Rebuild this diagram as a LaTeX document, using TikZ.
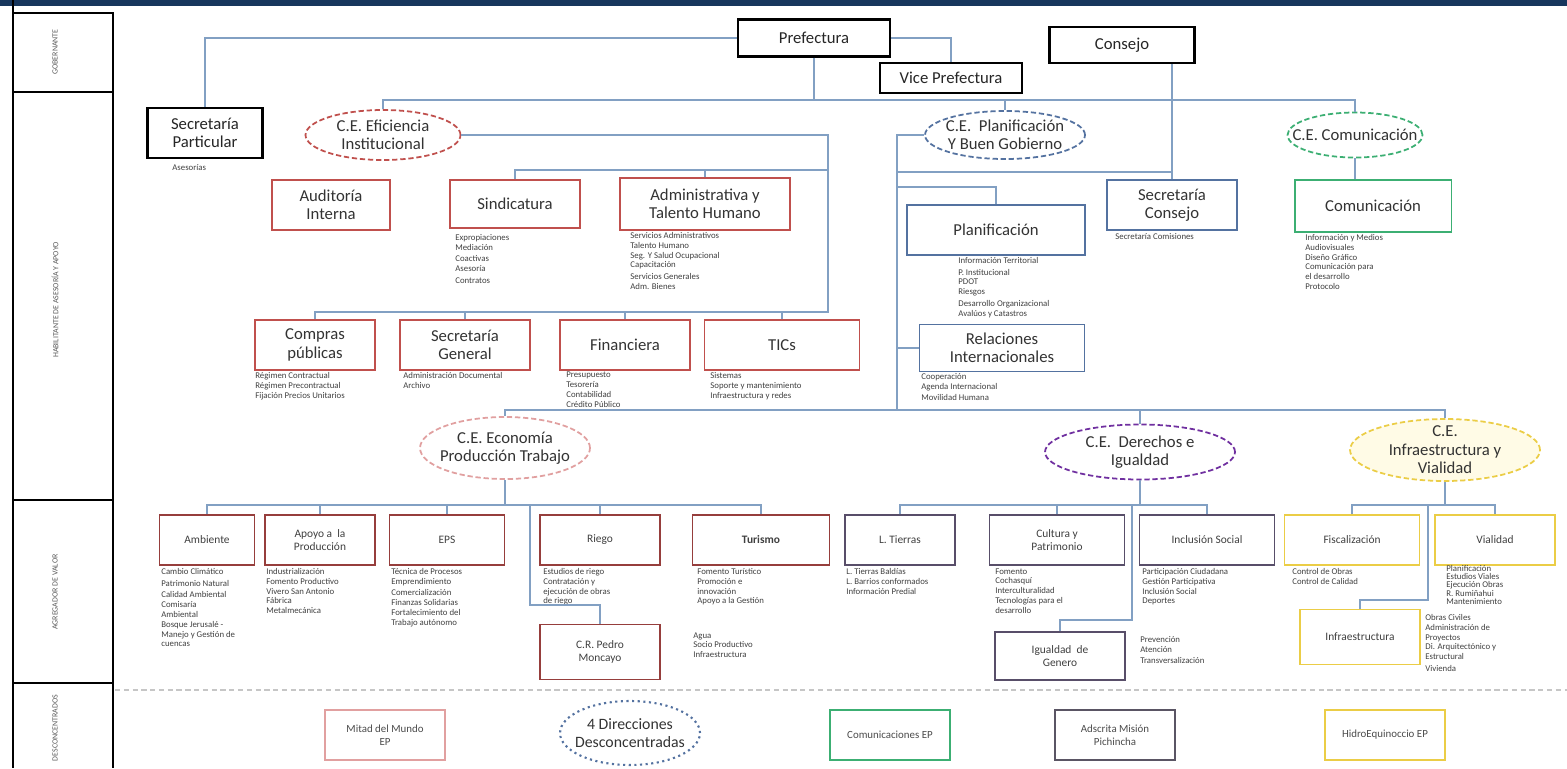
\documentclass[tikz,border=0pt]{standalone}
\usepackage{fontspec}
\setmainfont{Carlito}
\usetikzlibrary{shapes.geometric, positioning}
\definecolor{navy}{RGB}{23,54,93}
\definecolor{cred}{RGB}{192,80,77}
\definecolor{cdred}{RGB}{150,62,60}
\definecolor{cblue}{RGB}{84,114,160}
\definecolor{cgreen}{RGB}{60,175,115}
\definecolor{cpurp}{RGB}{112,48,160}
\definecolor{cpbox}{RGB}{88,78,105}
\definecolor{cyell}{RGB}{235,205,70}
\definecolor{cyfill}{RGB}{255,251,230}
\definecolor{cpink}{RGB}{225,160,160}
\definecolor{cline}{RGB}{130,160,195}
\definecolor{cgray}{RGB}{90,85,100}

\begin{document}
\begin{tikzpicture}[
	x=0.02cm, y=-0.02cm,
	font=\fontsize{9.5}{10.5}\selectfont,
	bigbox/.style={draw=black, line width=1.4pt, fill=white, align=center, inner sep=1pt, text=black!85},
	unit/.style={draw=#1, line width=1.1pt, fill=white, align=center, inner sep=1pt, text=black!80},
	subunit/.style={draw=#1, line width=1pt, fill=white, align=center, inner sep=1pt, font=\fontsize{6.5}{7.5}\selectfont, minimum height=1cm, text=black!75},
	ep/.style={draw=#1, line width=1.1pt, fill=white, align=center, inner sep=1pt, font=\fontsize{6.2}{7.5}\selectfont, minimum width=2.4cm, minimum height=1cm, text=black!70},
	ce/.style={ellipse, draw=#1, dash pattern=on 3pt off 1.6pt, line width=1pt, fill=white, align=center, inner xsep=-16pt, inner ysep=-6pt, text=black!80},
	items/.style={anchor=north west, align=left, inner sep=0pt, font=\fontsize{5}{5.6}\selectfont, text=black!75},
	link/.style={draw=cline, line width=0.7pt},
	strip/.style={rotate=90, font=\fontsize{4.5}{5}\selectfont, text=black!65}
	]
	
	\useasboundingbox (0,0) rectangle (1567,768);
	\fill[navy] (0,0) rectangle (1567,6);
	
	% left strip
	\draw[line width=1.6pt] (13,0) -- (13,768);
	\draw[line width=1.6pt] (13,13) -- (113,13) -- (113,768);
	\draw[line width=1.6pt] (13,92) -- (113,92);
	\draw[line width=1.6pt] (13,500) -- (113,500);
	\draw[line width=1.6pt] (13,683) -- (113,683);
	\node[strip] (gob) at (55,52) {GOBERNANTE};
	\node[strip] (hab) at (55,300) {HABILITANTE DE ASESORÍA Y APOYO};
	\node[strip] (agr) at (55,592) {AGREGADOR DE VALOR};
	\node[strip] (des) at (55,728) {DESCONCENTRADOS};
	
	\draw[gray!45, dash pattern=on 3pt off 2pt, line width=0.8pt] (115,690) -- (1567,690);
	
	% gobernante
	\node[bigbox, minimum width=3.04cm, minimum height=0.74cm] (pref) at (814,38) {Prefectura};
	\node[bigbox, minimum width=2.84cm, minimum height=0.6cm] (vice) at (951,78) {Vice Prefectura};
	\node[bigbox, minimum width=2.9cm, minimum height=0.72cm] (cons) at (1122,45) {Consejo};
	\node[bigbox, minimum width=2.3cm, minimum height=1cm] (secpart) at (205,133) {Secretaría\\Particular};
	\node[items] (secpartL) at (172,164) {Asesorías};
	
	% coordinaciones
	\node[ce=cred, minimum width=3.1cm, minimum height=1cm] (ceef) at (383,135) {C.E. Eficiencia\\Institucional};
	\node[ce=cblue, minimum width=3.2cm, minimum height=0.96cm] (cepl) at (1005,135) {C.E.~ Planificación\\Y Buen Gobierno};
	\node[ce=cgreen, minimum width=2.7cm, minimum height=0.9cm] (ceco) at (1355,135) {C.E. Comunicación};
	
	\node[unit=cred, minimum width=2.36cm, minimum height=1cm] (aud) at (331,205) {Auditoría\\Interna};
	\node[unit=cred, minimum width=2.6cm, minimum height=0.96cm] (sind) at (515,204) {Sindicatura};
	\node[unit=cred, minimum width=3.4cm, minimum height=1.04cm] (admin) at (705,204) {Administrativa y\\Talento Humano};
	\node[unit=cblue, minimum width=3.56cm, minimum height=1cm] (plan) at (996,230) {Planificación};
	\node[unit=cblue, minimum width=2.6cm, minimum height=1cm] (seccons) at (1172,205) {Secretaría\\Consejo};
	\node[unit=cgreen, minimum width=3.14cm, minimum height=1.04cm] (comu) at (1373,206) {Comunicación};
	
	\node[unit=cred, minimum width=2.4cm, minimum height=1cm] (compras) at (315,345) {Compras\\públicas};
	\node[unit=cred, minimum width=2.6cm, minimum height=1cm] (secgen) at (465,345) {Secretaría\\General};
	\node[unit=cred, minimum width=2.6cm, minimum height=1cm] (finan) at (625,345) {Financiera};
	\node[unit=cred, minimum width=3.1cm, minimum height=1cm] (tics) at (782,345) {TICs};
	\node[unit=cblue, minimum width=3.3cm, minimum height=0.94cm] (relint) at (1002,348) {Relaciones\\Internacionales};
	
	\node[items] (sindL) at (455,234) {Expropiaciones\\Mediación\\[1pt]Coactivas\\Asesoría\\[1pt]Contratos};
	\node[items] (adminL) at (630,232) {Servicios Administrativos\\Talento Humano\\Seg. Y Salud Ocupacional\\Capacitación\\[1pt]Servicios Generales\\Adm. Bienes};
	\node[items] (planL) at (958,257) {Información Territorial\\[1pt]P. Institucional\\PDOT\\Riesgos\\[1pt]Desarrollo Organizacional\\Avalúos y Catastros};
	\node[items] (secconsL) at (1115,233) {Secretaría Comisiones};
	\node[items] (comuL) at (1305,234) {Información y Medios\\Audiovisuales\\Diseño Gráfico\\Comunicación para\\el desarrollo\\Protocolo};
	\node[items] (comprasL) at (255,372) {Régimen Contractual\\Régimen Precontractual\\Fijación Precios Unitarios};
	\node[items] (secgenL) at (403,372) {Administración Documental\\Archivo};
	\node[items] (finanL) at (566,372) {Presupuesto\\Tesorería\\Contabilidad\\Crédito Público};
	\node[items] (ticsL) at (710,372) {Sistemas\\Soporte y mantenimiento\\Infraestructura y redes};
	\node[items] (relintL) at (921,373) {Cooperación\\Agenda Internacional\\[1pt]Movilidad Humana};
	
	% agregadores de valor
	\node[ce=cpink, minimum width=3.4cm, minimum height=1.24cm] (ceeco) at (505,448) {C.E. Economía\\Producción Trabajo};
	\node[ce=cpurp, minimum width=3.8cm, minimum height=1.1cm] (ceder) at (1140,452) {C.E.~ Derechos e\\Igualdad};
	\node[ce=cyell, fill=cyfill, minimum width=3.8cm, minimum height=1.24cm] (ceinf) at (1445,450) {C.E.\\Infraestructura y\\Vialidad};
	
	\node[subunit=cdred, minimum width=1.9cm] (amb) at (207,540) {Ambiente};
	\node[subunit=cdred, minimum width=2.2cm] (apoyo) at (320,540) {Apoyo a~ la\\Producción};
	\node[subunit=cdred, minimum width=2.3cm] (eps) at (447,540) {EPS};
	\node[subunit=cdred, minimum width=2.4cm] (riego) at (600,540) {Riego};
	\node[subunit=cdred, minimum width=2.74cm] (tur) at (761,540) {\textbf{Turismo}};
	\node[subunit=cpbox, minimum width=2.2cm] (ltier) at (900,540) {L. Tierras};
	\node[subunit=cpbox, minimum width=2.7cm] (cult) at (1057,540) {Cultura y\\Patrimonio};
	\node[subunit=cpbox, minimum width=2.7cm] (incl) at (1207,540) {Inclusión Social};
	\node[subunit=cyell, minimum width=2.7cm] (fisc) at (1352,540) {Fiscalización};
	\node[subunit=cyell, minimum width=2.4cm] (vial) at (1495,540) {Vialidad};
	\node[subunit=cdred, minimum width=2.4cm, minimum height=1.1cm] (crpm) at (600,652) {C.R. Pedro\\Moncayo};
	\node[subunit=cpbox, minimum width=2.6cm, minimum height=0.96cm] (ig) at (1060,656) {Igualdad~ de\\Genero};
	\node[subunit=cyell, minimum width=2.4cm, minimum height=1.1cm] (infra) at (1360,637) {Infraestructura};
	
	\node[items] (ambL) at (161,568) {Cambio Climático\\[1pt]Patrimonio Natural\\[1pt]Calidad Ambiental\\Comisaría\\Ambiental\\Bosque Jerusalé -\\Manejo y Gestión de\\cuencas};
	\node[items] (apoyoL) at (266,568) {Industrialización\\Fomento Productivo\\Vivero San Antonio\\Fábrica\\Metalmecánica};
	\node[items] (epsL) at (391,568) {Técnica de Procesos\\Emprendimiento\\[1pt]Comercialización\\Finanzas Solidarias\\Fortalecimiento del\\Trabajo autónomo};
	\node[items] (riegoL) at (543,568) {Estudios de riego\\Contratación y\\ejecución de obras\\de riego};
	\node[items] (turL) at (697,568) {Fomento Turístico\\Promoción e\\innovación\\Apoyo a la Gestión};
	\node[items] (crpmL) at (693,632) {Agua\\Socio Productivo\\Infraestructura};
	\node[items] (ltierL) at (846,568) {L. Tierras Baldías\\L. Barrios conformados\\Información Predial};
	\node[items] (cultL) at (995,568) {Fomento\\Cochasquí\\Interculturalidad\\Tecnologías para el\\desarrollo};
	\node[items] (inclL) at (1142,568) {Participación Ciudadana\\Gestión Participativa\\Inclusión Social\\Deportes};
	\node[items] (igL) at (1140,636) {Prevención\\Atención\\[1pt]Transversalización};
	\node[items] (fiscL) at (1292,568) {Control de Obras\\Control de Calidad};
	\node[items, font=\fontsize{5}{4.7}\selectfont] (vialL) at (1446,565) {Planificación\\Estudios Viales\\Ejecución Obras\\R. Rumiñahui\\Mantenimiento};
	\node[items] (infraL) at (1425,614) {Obras Civiles\\Administración de\\Proyectos\\Di. Arquitectónico y\\Estructural\\[1pt]Vivienda};
	
	% desconcentrados
	\node[ep=cpink] (mitad) at (385,735) {Mitad del Mundo\\EP};
	\node[ellipse, draw=cblue, dotted, line width=1.2pt, align=center, inner xsep=-14pt, inner ysep=-6pt, minimum width=2.8cm, minimum height=1.28cm, font=\fontsize{9}{10.5}\selectfont, text=black!80] (cuatro) at (630,733) {4 Direcciones\\Desconcentradas};
	\node[ep=cgreen] (comep) at (890,735) {Comunicaciones EP};
	\node[ep=cgray] (adscr) at (1115,735) {Adscrita Misión\\Pichincha};
	\node[ep=cyell] (hidro) at (1385,735) {HidroEquinoccio EP};
	
	% connectors
	\coordinate (topbus) at (814,100);
	\coordinate (efmid) at (828,170);
	\coordinate (efbus) at (828,312);
	\coordinate (plv) at (897,135);
	\coordinate (lowbus) at (897,410);
	\coordinate (cbl) at (897,172);
	\coordinate (cbr) at (1172,172);
	\coordinate (plbr) at (897,187);
	\coordinate (ecbus) at (505,505);
	\coordinate (debus) at (1140,505);
	\coordinate (inbus) at (1445,505);
	\coordinate (pmA) at (530,505);
	\coordinate (pmB) at (530,605);
	\coordinate (igA) at (1132,505);
	\coordinate (igB) at (1132,620);
	\coordinate (ifA) at (1428,505);
	\coordinate (ifB) at (1428,600);
	
	\draw[link] (pref.west) -| (secpart.north);
	\draw[link] (pref.east) -| (vice.north);
	\draw[link] (pref.south) -- (topbus);
	\draw[link] (ceef.north) -- (ceef.north |- topbus) -- (ceco.north |- topbus) -- (ceco.north);
	\draw[link] (cepl.north) -- (cepl.north |- topbus);
	\draw[link] (ceco.south) -- (ceco.south |- comu.north);
	
	\draw[link] (ceef.east) -| (efbus) -| (compras.north);
	\draw[link] (sind.north) |- (efmid);
	\draw[link] (admin.north) -- (admin.north |- efmid);
	\foreach \n in {secgen, finan, tics}
	\draw[link] (\n.north) -- (\n.north |- efbus);
	
	\draw[link] (cepl.west) -- (plv) -- (lowbus);
	\draw[link] (cons.south -| seccons.north) -- (seccons.north);
	\draw[link] (cbl) -- (cbr);
	\draw[link] (plan.north) |- (plbr);
	\draw[link] (relint.west) -- (relint.west -| plv);
	
	\draw[link] (ceeco.north) |- (lowbus) -| (ceinf.north);
	\draw[link] (ceder.north) -- (ceder.north |- lowbus);
	
	\draw[link] (ceeco.south) -- (ecbus);
	\draw[link] (amb.north) |- (tur.north |- ecbus) -- (tur.north);
	\foreach \n in {apoyo, eps, riego}
	\draw[link] (\n.north) -- (\n.north |- ecbus);
	\draw[link] (pmA) -- (pmB) -| (crpm.north);
	
	\draw[link] (ceder.south) -- (debus);
	\draw[link] (ltier.north) |- (incl.north |- debus) -- (incl.north);
	\draw[link] (cult.north) -- (cult.north |- debus);
	\draw[link] (igA) -- (igB) -| (ig.north);
	
	\draw[link] (ceinf.south) -- (inbus);
	\draw[link] (fisc.north) |- (vial.north |- inbus) -- (vial.north);
	\draw[link] (ifA) -- (ifB) -| (infra.north);
	
\end{tikzpicture}
\end{document}
